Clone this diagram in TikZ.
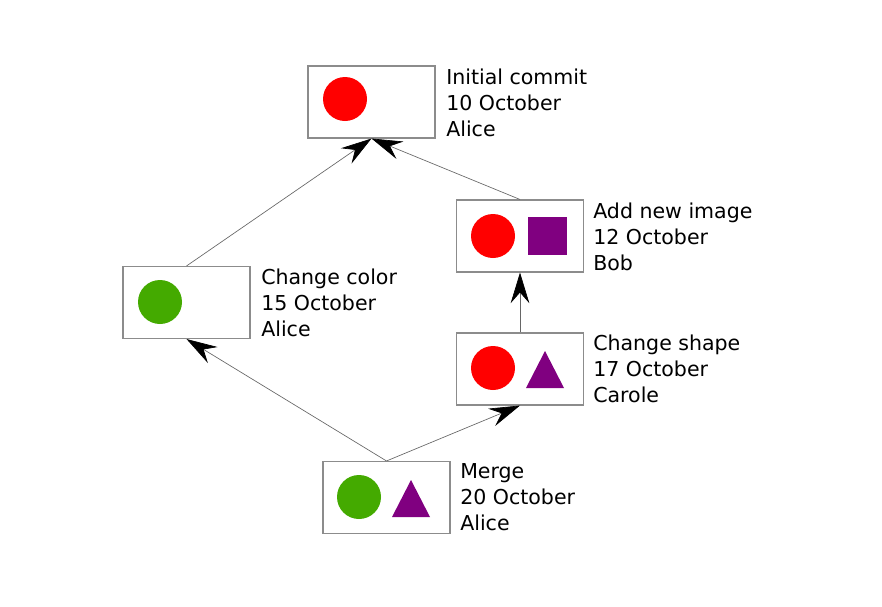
\documentclass[tikz,border=0pt]{standalone}
\usepackage{fontspec}
\setmainfont{DejaVu Sans}
\usetikzlibrary{arrows.meta,positioning}
\definecolor{histRed}{HTML}{FF0000}
\definecolor{histGreen}{HTML}{44AA00}
\definecolor{histPurple}{HTML}{800080}
\definecolor{histBorder}{HTML}{8C8C8C}

\begin{document}
\begin{tikzpicture}[x=0.75pt, y=-0.75pt,
    commitBox/.style={rectangle, draw=histBorder, fill=white, line width=0.8pt, minimum width=95.25pt, minimum height=54pt, inner sep=0pt},
    commitInfo/.style={anchor=west, align=left, inner sep=0pt, font=\fontsize{15.4pt}{19.5pt}\selectfont},
    parent/.style={draw=black!60, line width=0.5pt, -{Stealth[length=23pt, width=14pt, inset=8pt, black]}}
  ]
  \useasboundingbox (0,0) rectangle (882,607);

  % commits
  \node[commitBox] (init) at (371.5,102) {};
  \node[commitBox] (color) at (186.5,302.5) {};
  \node[commitBox] (image) at (520,236) {};
  \node[commitBox] (shape) at (520,369) {};
  \node[commitBox] (merge) at (386.5,497.5) {};

  % contents of each commit
  \fill[histRed] (345,99) circle[radius=16.5pt];
  \fill[histGreen] (160,302) circle[radius=16.5pt];
  \fill[histRed] (493,236) circle[radius=16.5pt];
  \fill[histPurple] (528,217) rectangle (567,255);
  \fill[histRed] (493,368) circle[radius=16.5pt];
  \fill[histPurple] (545,351) -- (564,388) -- (526,388) -- cycle;
  \fill[histGreen] (359,497) circle[radius=16.5pt];
  \fill[histPurple] (411,480) -- (430,517) -- (392,517) -- cycle;

  % messages
  \node[commitInfo] (initText) at (446,103) {Initial commit\\10 October\\Alice};
  \node[commitInfo] (colorText) at (261,303) {Change color\\15 October\\Alice};
  \node[commitInfo] (imageText) at (593,237) {Add new image\\12 October\\Bob};
  \node[commitInfo] (shapeText) at (593,369) {Change shape\\17 October\\Carole};
  \node[commitInfo] (mergeText) at (460,497) {Merge\\20 October\\Alice};

  % parent links
  \draw[parent] (color.north) -- (init.south);
  \draw[parent] (image.north) -- (init.south);
  \draw[parent] (shape.north) -- (image.south);
  \draw[parent] (merge.north) -- (color.south);
  \draw[parent] (merge.north) -- (shape.south);
\end{tikzpicture}
\end{document}
